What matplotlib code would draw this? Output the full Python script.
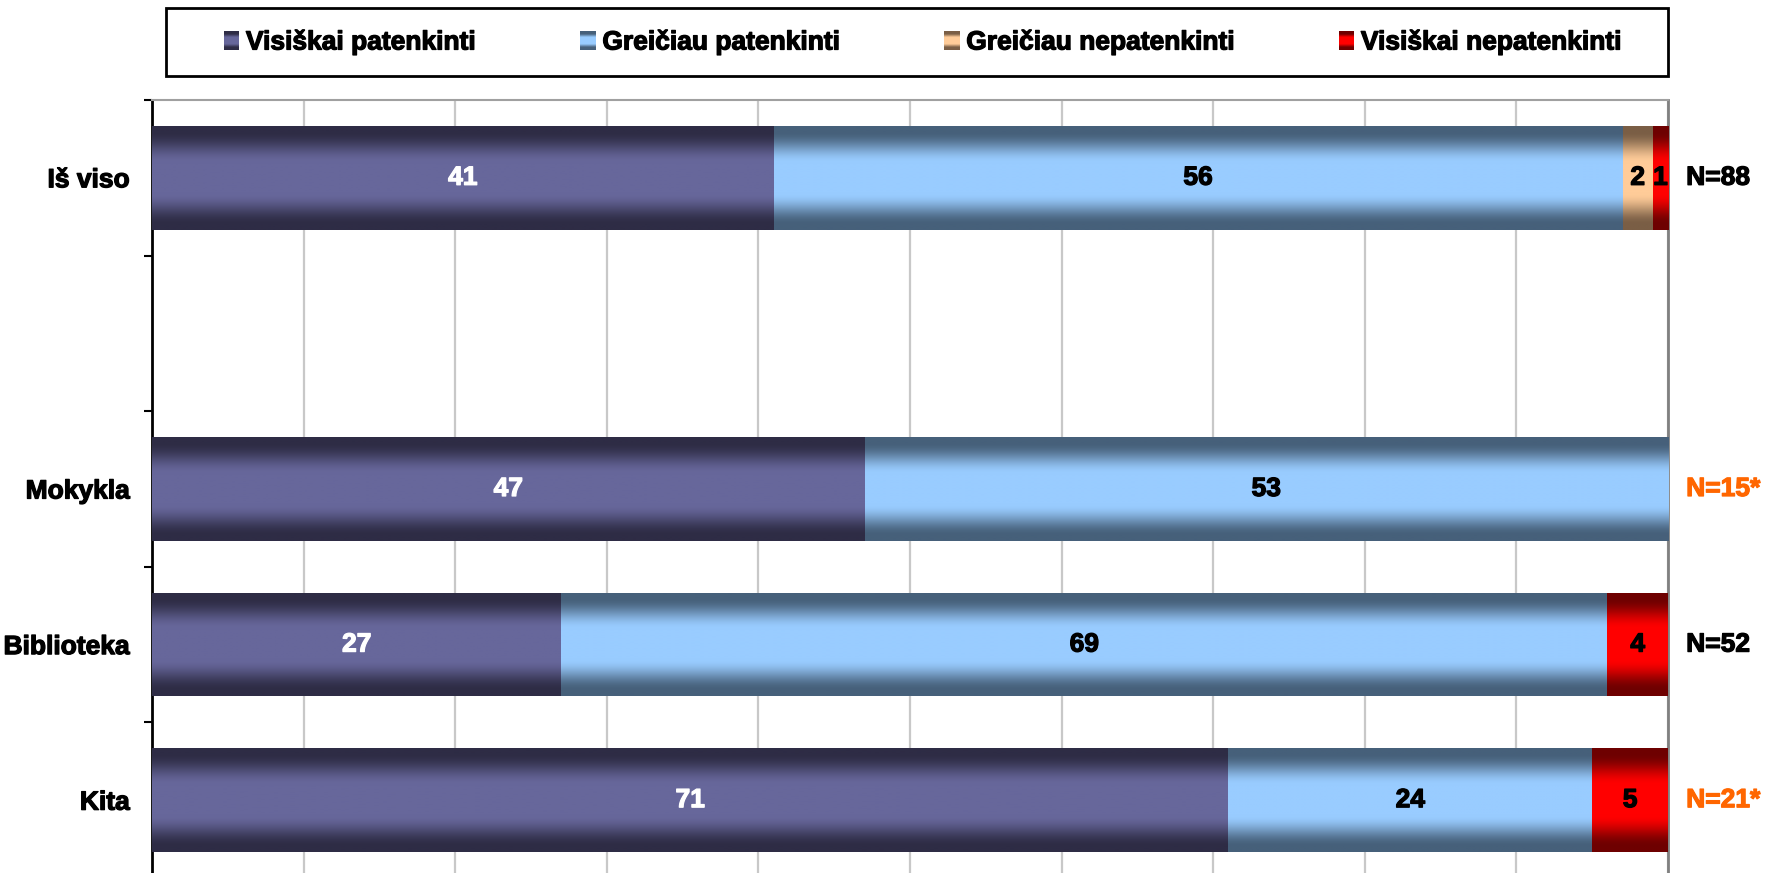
import numpy as np
import matplotlib as mpl
mpl.use('Agg')
import matplotlib.pyplot as plt
from matplotlib.patches import Rectangle, Patch
from matplotlib.colors import to_rgb
import matplotlib.transforms as mtransforms
import matplotlib.patheffects as pe

plt.rcParams['font.family'] = ['Liberation Sans', 'DejaVu Sans']
plt.rcParams['font.weight'] = 'bold'

# data
categories = ['Iš viso', '', 'Mokykla', 'Biblioteka', 'Kita']
series = ['Visiškai patenkinti', 'Greičiau patenkinti',
          'Greičiau nepatenkinti', 'Visiškai nepatenkinti']
values = [
    [41, 0, 47, 27, 71],
    [56, 0, 53, 69, 24],
    [2, 0, 0, 0, 0],
    [1, 0, 0, 4, 5],
]
n_labels = ['N=88', '', 'N=15*', 'N=52', 'N=21*']
n_colors = ['black', 'black', '#FF6600', 'black', '#FF6600']

# (edge colour, centre colour) of each series gradient
grads = [('#2E2C45', '#67679B'),
         ('#46607A', '#99CCFF'),
         ('#7A5E45', '#FFCC99'),
         ('#6E0000', '#FF0000')]
label_colors = ['white', 'black', 'black', 'black']
fontsize = 19


def gradient(edge, centre, n=64):
	t = np.abs(np.linspace(-1, 1, n))
	w = np.clip((t - 0.3) / 0.6, 0, 1)
	w = w * w * (3 - 2 * w)
	e = np.array(to_rgb(edge))
	c = np.array(to_rgb(centre))
	return c[None, :] * (1 - w[:, None]) + e[None, :] * w[:, None]


class GradHandler:
	def __init__(self, edge, centre):
		self.cols = gradient(edge, centre, 16)

	def legend_artist(self, legend, orig_handle, fontsize, handlebox):
		x0, y0 = handlebox.xdescent, handlebox.ydescent
		w, h = handlebox.width, handlebox.height
		n = len(self.cols)
		for i, c in enumerate(self.cols):
			r = Rectangle((x0, y0 + h * i / n), w, h / n * 1.05, facecolor=c,
						  edgecolor='none', transform=handlebox.get_transform())
			handlebox.add_artist(r)
		return r


fig = plt.figure(figsize=(17.85, 8.73), dpi=100)
ax = fig.add_axes([152 / 1785, -5 / 873, 1516 / 1785, 778 / 873])

y = np.arange(len(categories))
left = np.zeros(len(categories))
containers = []
for s_idx, name in enumerate(series):
	vals = np.array(values[s_idx], dtype=float)
	bc = ax.barh(y, vals, 0.667, left=left, color=grads[s_idx][1],
				 edgecolor='none', label=name, zorder=2)
	img = gradient(*grads[s_idx])[:, None, :]
	for p in bc.patches:
		if p.get_width() <= 0:
			continue
		bb = p.get_bbox()
		im = ax.imshow(img, extent=[bb.x0, bb.x1, bb.y1, bb.y0], aspect='auto',
					   interpolation='bilinear', zorder=3)
		im.set_clip_path(p)
	labels = ['%d' % v if v > 0 else '' for v in vals]
	ax.bar_label(bc, labels=labels, label_type='center', color=label_colors[s_idx],
				 fontsize=fontsize, fontweight='bold', zorder=4)
	containers.append(bc)
	left += vals

ax.set_xlim(0, 100)
ax.set_ylim(len(categories) - 0.5, -0.5)

# N labels on the right
trans = mtransforms.blended_transform_factory(ax.transAxes, ax.transData)
for i, t in enumerate(n_labels):
	if t:
		ax.text(1.012, y[i], t, transform=trans, ha='left', va='center',
				fontsize=fontsize, fontweight='bold', color=n_colors[i])

ax.set_xticks(np.arange(0, 101, 10))
ax.set_xticklabels([])
ax.tick_params(axis='x', length=0)
ax.grid(True, axis='x', color='#C8C8C8', linewidth=1.6, zorder=0)
ax.set_axisbelow(True)

ax.set_yticks(np.arange(-0.5, len(categories), 1.0))
ax.set_yticklabels([])
ax.set_yticks(y, categories, minor=True)
ax.tick_params(axis='y', which='major', length=6, width=1.5, color='black')
ax.tick_params(axis='y', which='minor', length=0, pad=16, labelsize=fontsize)
for lbl in ax.get_yticklabels(minor=True):
	lbl.set_fontweight('bold')

ax.spines['left'].set_color('black')
ax.spines['left'].set_linewidth(2)
ax.spines['right'].set_color('#808080')
ax.spines['right'].set_linewidth(2)
ax.spines['top'].set_color('#A0A0A0')
ax.spines['top'].set_linewidth(1.5)
ax.spines['bottom'].set_visible(False)

# legend box drawn separately, legend entries spread inside it
fig.patches.append(Rectangle((166 / 1785, 1 - 76 / 873), 1502 / 1785, 68 / 873,
							 transform=fig.transFigure, facecolor='white',
							 edgecolor='black', linewidth=2, zorder=0))
handles = [Patch(facecolor=g[1]) for g in grads]
hmap = {h: GradHandler(*g) for h, g in zip(handles, grads)}
leg = fig.legend(handles, series, handler_map=hmap, loc='center', ncol=4,
				 mode='expand', bbox_to_anchor=(224 / 1785, 1 - 76 / 873, 1398 / 1785, 68 / 873),
				 bbox_transform=fig.transFigure, borderaxespad=0, frameon=False,
				 handlelength=0.58, handleheight=0.68, handletextpad=0.25,
				 borderpad=0, columnspacing=1.0, prop={'weight': 'bold', 'size': fontsize})

# heavier strokes, closer to the original bold face
for t in fig.findobj(mpl.text.Text):
	if t.get_text():
		t.set_path_effects([pe.withStroke(linewidth=0.9, foreground=t.get_color())])

fig.savefig('out.png', dpi=100)
